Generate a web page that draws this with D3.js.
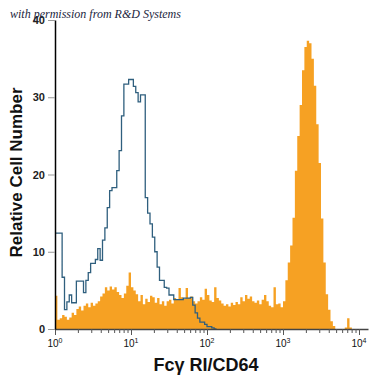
<!DOCTYPE html>
<html>
<head>
<meta charset="utf-8">
<script src="https://cdn.jsdelivr.net/npm/d3@7"></script>
<style>
  body { margin: 0; background: #fff; }
  svg { display: block; }
</style>
</head>
<body>
<div id="chart"></div>
<script>
// Step 1: Data (counts per bin, 32 bins per decade starting at 10^0)
// ===================================================================
var binsPerDecade = 32;

var stainedCounts = [
  4.3, 1.2, 1.4, 1.8, 1.6, 1.2, 1.5, 2.1, 1.8, 2.6,
  2.9, 2.4, 3.0, 3.3, 2.8, 3.4, 3.0, 3.3, 3.6, 4.2,
  4.6, 5.4, 5.0, 5.5, 5.1, 5.4, 4.8, 4.4, 4.0, 4.6,
  5.6, 7.3, 5.4, 5.0, 4.5, 3.6, 4.4, 3.2, 3.9, 3.5,
  4.3, 4.1, 3.4, 4.0, 3.2, 3.6, 3.0, 3.6, 3.8, 3.3,
  4.0, 3.8, 5.3, 4.1, 3.9, 5.3, 4.0, 4.2, 3.6, 3.3,
  3.6, 4.1, 3.8, 5.2, 4.4, 3.7, 3.5, 5.4, 4.0, 3.7,
  3.3, 3.0, 3.2, 2.9, 3.4, 3.1, 3.5, 3.2, 4.1, 3.6,
  4.4, 3.9, 4.2, 3.6, 3.4, 3.7, 3.2, 3.8, 4.4, 3.6,
  3.0, 2.8, 5.4, 3.2, 3.3, 2.8, 3.6, 6.3, 8.6, 10.8,
  14.4, 20.5, 25.0, 29.0, 33.5, 36.5, 37.3, 37.0, 35.0, 31.5,
  26.5, 21.5, 14.3, 8.6, 4.5, 2.5, 1.0, 0.4, 0, 0,
  0, 0, 0.2, 1.4, 0.2, 0, 0, 0, 0, 0,
  0, 0
];

var isotypeCounts = [
  12.4, 12.4, 12.4, 6.7, 2.5, 3.5, 4.4, 3.4, 3.4, 6.2,
  6.2, 6.2, 4.7, 6.3, 7.3, 8.5, 8.5, 9.0, 10.4, 8.9,
  11.5, 13.1, 15.7, 17.9, 18.3, 18.3, 20.5, 23.1, 27.6, 31.7,
  31.7, 32.3, 32.3, 31.4, 30.6, 29.4, 30.3, 30.3, 17.0, 15.0,
  13.6, 11.9, 10.0, 8.0, 6.3, 6.3, 5.4, 5.3, 4.4, 4.4,
  3.8, 3.8, 3.8, 3.8, 4.0, 4.0, 4.0, 4.1, 3.1, 2.1,
  1.4, 0.9, 0.9, 0.6, 0.3, 0.3, 0.15, 0
];

var yTicks = [0, 10, 20, 30, 40];
var xMajorTicks = [1, 10, 100, 1000, 10000];
var xExponents = ["0", "1", "2", "3", "4"];

// Step 2: Set up our chart
// ===========================
var svgWidth = 375;
var svgHeight = 375;

var margin = { top: 20, right: 7, bottom: 46, left: 55 };
var width = svgWidth - margin.left - margin.right;
var height = svgHeight - margin.top - margin.bottom;

var svg = d3.select("#chart")
            .append("svg")
            .attr("width", svgWidth)
            .attr("height", svgHeight);

var chartGroup = svg.append("g")
                    .attr("transform", `translate(${margin.left}, ${margin.top})`);

// Step 3: Scales
// ================================
var xMax = Math.pow(10, width / 76);
var xLogScale = d3.scaleLog()
                  .domain([1, xMax])
                  .range([0, width]);

var yLinearScale = d3.scaleLinear()
                     .domain([0, 40])
                     .range([height, 0]);

function binEdge(i) {
  return Math.pow(10, i / binsPerDecade);
}

function toSteps(counts) {
  var pts = counts.map((c, i) => ({ x: binEdge(i), y: c }));
  pts.push({ x: binEdge(counts.length), y: counts[counts.length - 1] });
  return pts;
}

// Step 4: Histograms
// ================================
var stainedArea = d3.area()
                    .curve(d3.curveStepAfter)
                    .x(d => xLogScale(Math.min(d.x, xMax)))
                    .y0(yLinearScale(0))
                    .y1(d => yLinearScale(d.y));

chartGroup.append("path")
          .datum(toSteps(stainedCounts))
          .attr("d", stainedArea)
          .attr("fill", "#f6a123");

var isotypeLine = d3.line()
                    .curve(d3.curveStepAfter)
                    .x(d => xLogScale(d.x))
                    .y(d => yLinearScale(d.y));

chartGroup.append("path")
          .datum(toSteps(isotypeCounts))
          .attr("d", isotypeLine)
          .attr("fill", "none")
          .attr("stroke", "#2f5f7e")
          .attr("stroke-width", 1.3);

// Step 5: Axes
// ================================
var xTickValues = [];
for (var k = 0; k < 4; k++) {
  for (var m = 1; m < 10; m++) xTickValues.push(m * Math.pow(10, k));
}
xTickValues.push(10000);

var bottomAxis = d3.axisBottom(xLogScale)
                   .tickValues(xTickValues)
                   .tickFormat("")
                   .tickSizeOuter(0);

var xAxisGroup = chartGroup.append("g")
                           .attr("transform", `translate(0, ${height})`)
                           .call(bottomAxis);

xAxisGroup.select(".domain").attr("stroke", "#444").attr("stroke-width", 1.5);
xAxisGroup.selectAll(".tick line")
          .attr("stroke", "#555")
          .attr("y2", d => xMajorTicks.indexOf(d) >= 0 ? 6 : 4);

var xLabels = chartGroup.selectAll(".xlab")
                        .data(xMajorTicks)
                        .enter()
                        .append("text")
                        .attr("class", "xlab")
                        .attr("x", d => xLogScale(d))
                        .attr("y", height + 18)
                        .attr("text-anchor", "middle")
                        .style("font-family", "Liberation Sans, Arial, sans-serif")
                        .style("font-size", "10px")
                        .style("fill", "#111");

xLabels.append("tspan").text("10");
xLabels.append("tspan")
       .attr("dy", -4)
       .style("font-size", "7px")
       .text((d, i) => xExponents[i]);

var leftAxis = d3.axisLeft(yLinearScale)
                 .tickValues(yTicks)
                 .tickSize(7)
                 .tickSizeOuter(0)
                 .tickPadding(3);

var yAxisGroup = chartGroup.append("g").call(leftAxis);
yAxisGroup.select(".domain").attr("stroke", "#000").attr("stroke-width", 1.5);
yAxisGroup.selectAll(".tick line").attr("stroke", "#999");
yAxisGroup.selectAll(".tick text")
          .style("font-family", "Liberation Sans, Arial, sans-serif")
          .style("font-size", "11px")
          .style("font-weight", "bold")
          .style("fill", "#222");

// Step 6: Axis labels and note
// ================================
chartGroup.append("text")
          .attr("transform", "rotate(-90)")
          .attr("x", 0 - (height / 2) + 2)
          .attr("y", 0 - margin.left + 22)
          .attr("text-anchor", "middle")
          .style("font-family", "Liberation Sans, Arial, sans-serif")
          .style("font-size", "17px")
          .style("font-weight", "bold")
          .style("fill", "#111")
          .text("Relative Cell Number");

chartGroup.append("text")
          .attr("x", 206 - margin.left)
          .attr("y", height + 42)
          .attr("text-anchor", "middle")
          .style("font-family", "Liberation Sans, Arial, sans-serif")
          .style("font-size", "18px")
          .style("font-weight", "bold")
          .style("fill", "#111")
          .text("Fcγ RI/CD64");

svg.append("text")
   .attr("x", 10)
   .attr("y", 18)
   .style("font-family", "Liberation Serif, serif")
   .style("font-style", "italic")
   .style("font-size", "12px")
   .style("fill", "#1c2540")
   .text("with permission from R&D Systems");
</script>
</body>
</html>
